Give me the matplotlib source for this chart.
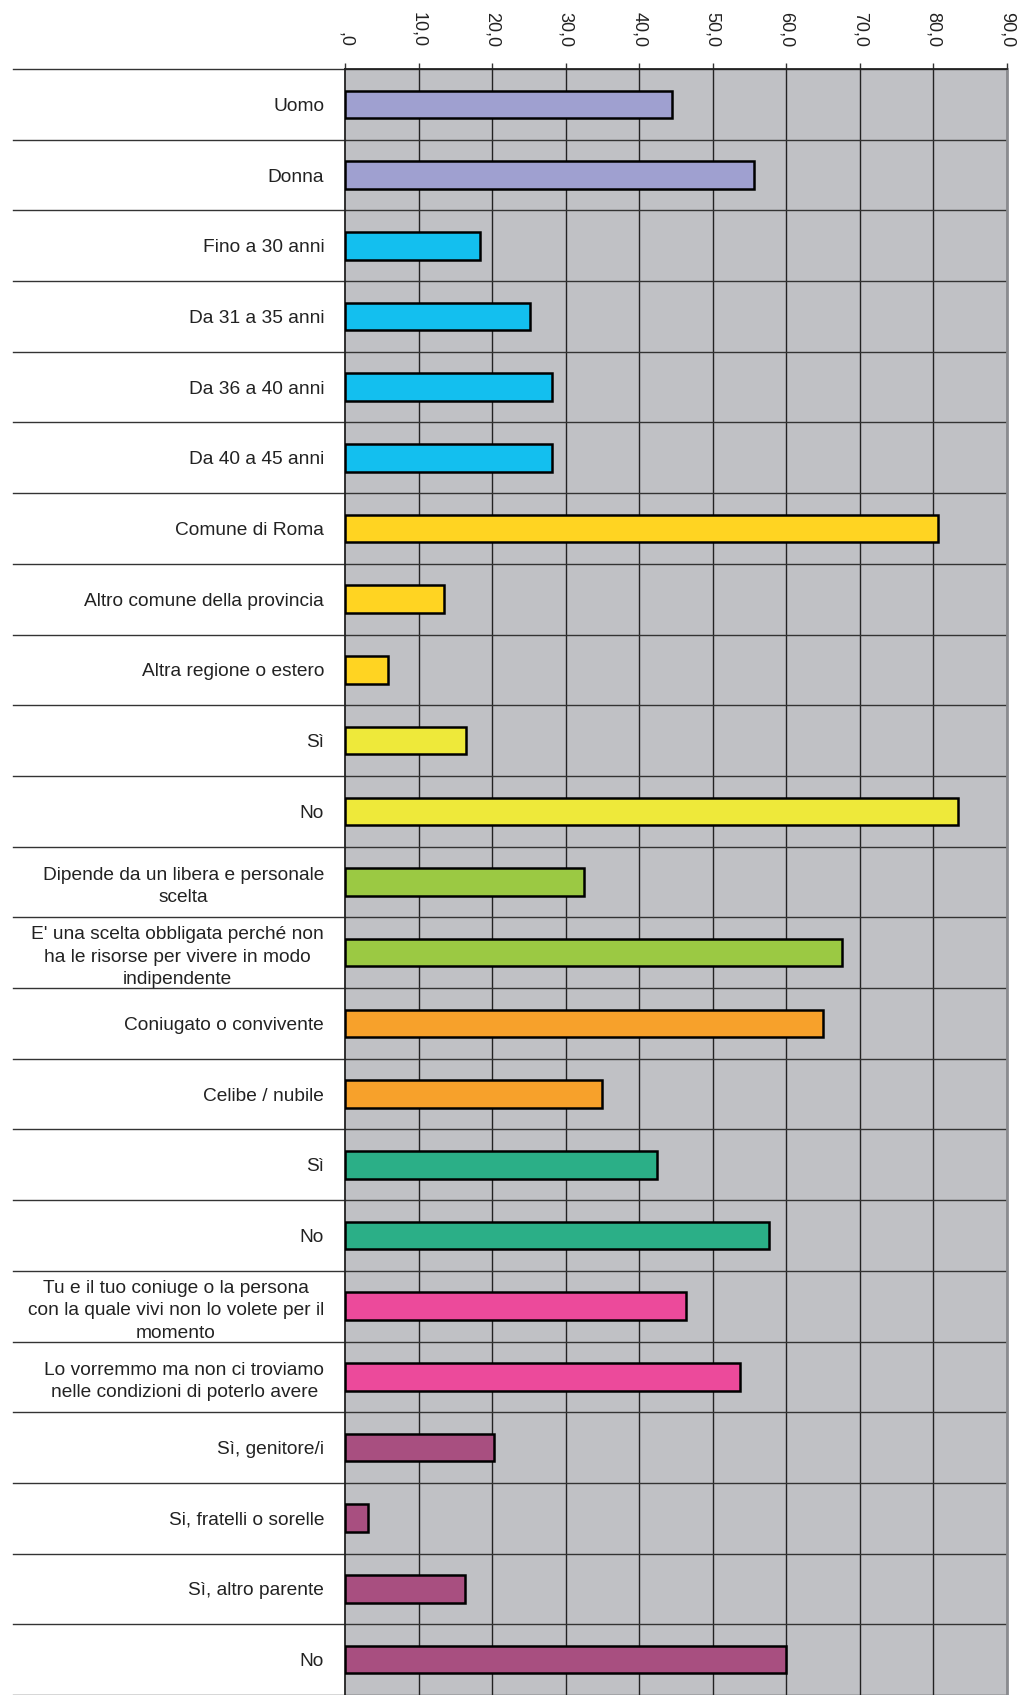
import matplotlib
matplotlib.use("Agg")
import matplotlib.pyplot as plt
import numpy as np

plt.rcParams["font.family"] = ["Liberation Sans", "DejaVu Sans"]

categories = [
    "Uomo",
    "Donna",
    "Fino a 30 anni",
    "Da 31 a 35 anni",
    "Da 36 a 40 anni",
    "Da 40 a 45 anni",
    "Comune di Roma",
    "Altro comune della provincia",
    "Altra regione o estero",
    "Sì",
    "No",
    "Dipende da un libera e personale\nscelta",
    "E' una scelta obbligata perché non\nha le risorse per vivere in modo\nindipendente",
    "Coniugato o convivente",
    "Celibe / nubile",
    "Sì",
    "No",
    "Tu e il tuo coniuge o la persona\ncon la quale vivi non lo volete per il\nmomento",
    "Lo vorremmo ma non ci troviamo\nnelle condizioni di poterlo avere",
    "Sì, genitore/i",
    "Si, fratelli o sorelle",
    "Sì, altro parente",
    "No",
]
values = [
    44.4, 55.6,
    18.4, 25.1, 28.1, 28.1,
    80.6, 13.5, 5.9,
    16.5, 83.4,
    32.5, 67.5,
    65.0, 35.0,
    42.4, 57.6,
    46.3, 53.7,
    20.3, 3.1, 16.3, 60.0,
]
group_sizes = [2, 4, 3, 2, 2, 2, 2, 2, 4]
group_colors = ["#9FA0D0", "#13BFEF", "#FFD422", "#EEE93A", "#9BC943",
                "#F7A12B", "#2BAF87", "#EC4A9B", "#A84F80"]
tick_values = [0, 10, 20, 30, 40, 50, 60, 70, 80, 90]
tick_labels = [",0", "10,0", "20,0", "30,0", "40,0", "50,0", "60,0", "70,0", "80,0", "90,0"]

colors = []
for size, col in zip(group_sizes, group_colors):
    colors += [col] * size

n = len(categories)
fig = plt.figure(figsize=(10.18, 16.95), dpi=100)
ax = fig.add_axes([345 / 1018, 0.0, 662 / 1018, 1 - 69 / 1695])
ax.set_facecolor("#C0C1C5")

y = np.arange(n)
ax.barh(y, values, height=0.39, color=colors, edgecolor="black", linewidth=1.8, zorder=3)

ax.set_xlim(0, 90)
ax.set_ylim(n - 0.5, -0.5)

# vertical gridlines
for t in tick_values[1:]:
    ax.axvline(t, color="#222222", linewidth=1.0, zorder=1)

# row separators, extending into the label area
for b in np.arange(n + 1) - 0.5:
    ax.axhline(b, color="#333333", linewidth=1.0, zorder=2)
    ax.plot([-335 / 662 * 90 * 0.99, 0], [b, b], color="#333333",
            linewidth=1.0, clip_on=False, zorder=2)

ax.xaxis.tick_top()
ax.set_xticks(tick_values)
ax.set_xticklabels(tick_labels, rotation=270, fontsize=13, color="#222222")
ax.tick_params(axis="x", length=4, width=1.0, color="#333333", pad=12)
ax.set_yticks(y)
ax.set_yticklabels(categories, fontsize=13.75, color="#222222",
                   multialignment="center", linespacing=1.42)
ax.tick_params(axis="y", length=0, pad=15)

for side in ["top", "left"]:
    ax.spines[side].set_color("#222222")
    ax.spines[side].set_linewidth(1.3)
ax.spines["right"].set_color("#8A8B8F")
ax.spines["right"].set_linewidth(2)
ax.spines["bottom"].set_visible(False)

fig.savefig("out.png", dpi=100)
